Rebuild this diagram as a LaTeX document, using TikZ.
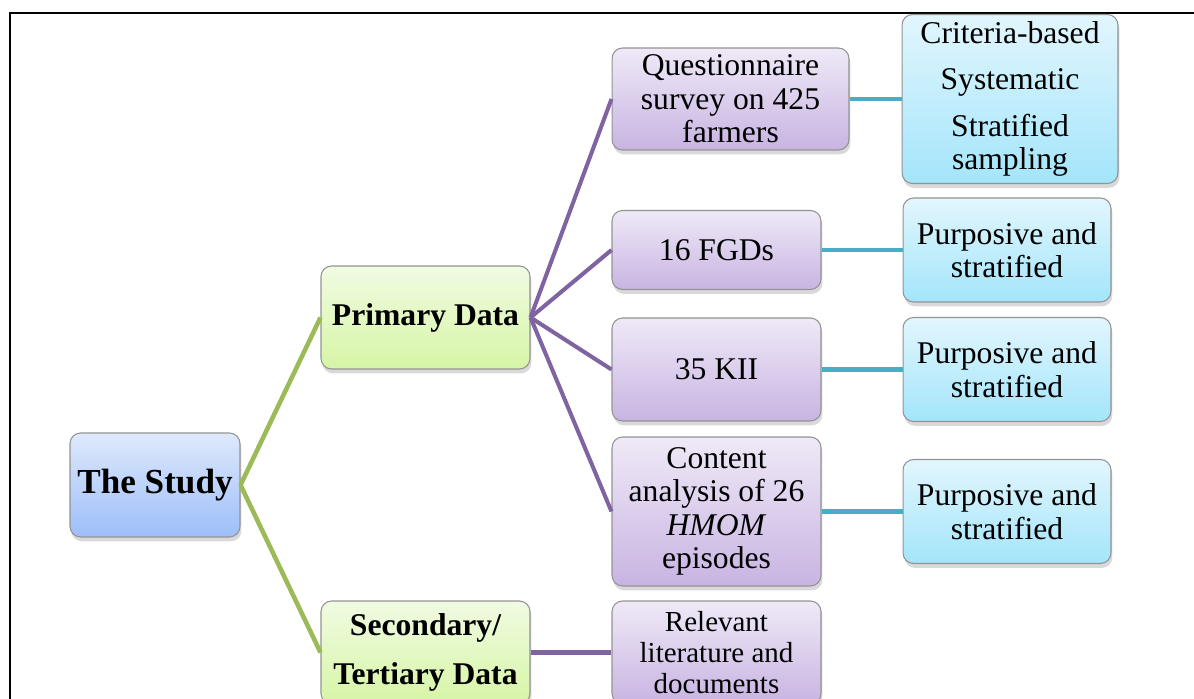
\documentclass[tikz,border=0pt]{standalone}
\usepackage{fontspec}
\setmainfont{Liberation Serif}
\usetikzlibrary{shadows}

\definecolor{studytop}{HTML}{DEE9FC}
\definecolor{studybot}{HTML}{9DBEF9}
\definecolor{greentop}{HTML}{F1FBE2}
\definecolor{greenbot}{HTML}{D6F5A6}
\definecolor{purptop}{HTML}{EFE9F7}
\definecolor{purpbot}{HTML}{C8B4E2}
\definecolor{cyantop}{HTML}{E2F6FD}
\definecolor{cyanbot}{HTML}{A3E5FB}
\definecolor{greenline}{HTML}{9BBB59}
\definecolor{purpline}{HTML}{8064A2}
\definecolor{cyanline}{HTML}{4BACC6}

\begin{document}
\begin{tikzpicture}[x=0.02cm,y=-0.02cm,
    box/.style={draw=gray!85, line width=0.6pt, rounded corners=6pt, align=center,
        inner sep=2pt, font=\fontsize{18}{19}\selectfont,
        drop shadow={opacity=0.3, shadow xshift=0.8pt, shadow yshift=-2.5pt}},
    studybox/.style={box, top color=studytop, bottom color=studybot,
        font=\fontsize{20}{22}\selectfont\bfseries},
    greenbox/.style={box, top color=greentop, bottom color=greenbot,
        minimum width=4.18cm, minimum height=2.06cm, font=\fontsize{18}{19}\selectfont\bfseries},
    purpbox/.style={box, top color=purptop, bottom color=purpbot,
        minimum width=4.18cm, minimum height=2.06cm},
    cyanbox/.style={box, top color=cyantop, bottom color=cyanbot,
        minimum width=4.16cm, minimum height=2.08cm},
    glink/.style={greenline, line width=2.6pt},
    plink/.style={purpline, line width=2.3pt},
    clink/.style={cyanline, line width=2.3pt}]
    \useasboundingbox (0,0) rectangle (1194,699);
    \clip (0,0) rectangle (1194,699);

    % frame
    \draw[line width=1.4pt] (10,720) -- (10,13) -- (1210,13);

    \node[studybox, minimum width=3.4cm, minimum height=2.08cm] (study) at (155,485) {\raisebox{-2pt}{The Study}};

    \node[greenbox] (prim) at (425.5,317.5) {Primary Data};
    \node[greenbox] (sec) at (425.5,652.5) {Secondary/\\[8.5pt]Tertiary Data};

    \node[purpbox, minimum width=4.74cm, minimum height=2.04cm] (quest) at (730.5,99) {Questionnaire\\survey on 425\\farmers};
    \node[purpbox, minimum height=1.58cm] (fgd) at (716.5,250) {16 FGDs};
    \node[purpbox] (kii) at (716.5,369.5) {35 KII};
    \node[purpbox, minimum height=2.98cm] (cont) at (716.5,511.5) {Content\\analysis of 26\\\textit{HMOM}\\episodes};
    \node[purpbox, font=\fontsize{16.5}{17.6}\selectfont] (lit) at (716.5,652.5) {Relevant\\literature and\\documents};

    \node[cyanbox, minimum width=4.32cm, minimum height=3.38cm] (crit) at (1010,99) {Criteria-based\\[7.5pt]Systematic\\[7.5pt]Stratified\\sampling};
    \node[cyanbox] (pura) at (1007,250) {Purposive and\\stratified};
    \node[cyanbox] (purb) at (1007,369.5) {Purposive and\\stratified};
    \node[cyanbox] (purc) at (1007,511.5) {Purposive and\\stratified};

    \draw[glink] (study.east) -- (prim.west);
    \draw[glink] (study.east) -- (sec.west);

    \foreach \n in {quest,fgd,kii,cont}
    \draw[plink] (prim.east) -- (\n.west);
    \draw[plink] (sec.east) -- (lit.west);

    \draw[clink] (quest.east) -- (crit.west);
    \draw[clink] (fgd.east) -- (pura.west);
    \draw[clink] (kii.east) -- (purb.west);
    \draw[clink] (cont.east) -- (purc.west);
\end{tikzpicture}
\end{document}
